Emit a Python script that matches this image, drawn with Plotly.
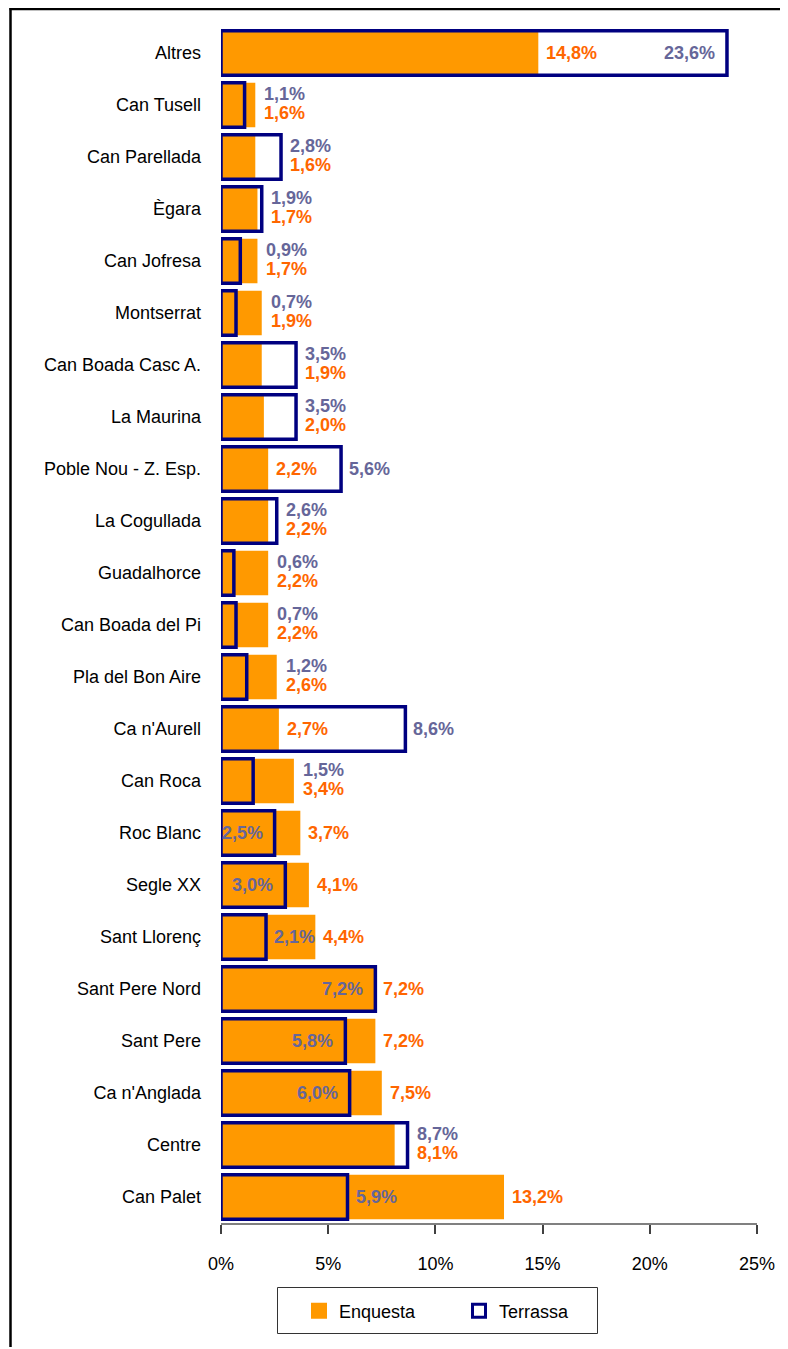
import plotly.graph_objects as go

categories = ["Altres", "Can Tusell", "Can Parellada", "Ègara", "Can Jofresa", "Montserrat",
              "Can Boada Casc A.", "La Maurina", "Poble Nou - Z. Esp.", "La Cogullada",
              "Guadalhorce", "Can Boada del Pi", "Pla del Bon Aire", "Ca n'Aurell", "Can Roca",
              "Roc Blanc", "Segle XX", "Sant Llorenç", "Sant Pere Nord", "Sant Pere",
              "Ca n'Anglada", "Centre", "Can Palet"]
enquesta = [14.8, 1.6, 1.6, 1.7, 1.7, 1.9, 1.9, 2.0, 2.2, 2.2, 2.2, 2.2, 2.6, 2.7, 3.4,
            3.7, 4.1, 4.4, 7.2, 7.2, 7.5, 8.1, 13.2]
terrassa = [23.6, 1.1, 2.8, 1.9, 0.9, 0.7, 3.5, 3.5, 5.6, 2.6, 0.6, 0.7, 1.2, 8.6, 1.5,
            2.5, 3.0, 2.1, 7.2, 5.8, 6.0, 8.7, 5.9]
tick_vals = [0, 5, 10, 15, 20, 25]
tick_text = ["0%", "5%", "10%", "15%", "20%", "25%"]

# label placement style per row: "stack" = two lines right of the longer bar,
# otherwise "terrassa_mode/enquesta_mode" with "in"/"out" relative to own bar end
label_style = ["in/out", "stack", "stack", "stack", "stack", "stack", "stack", "stack",
               "out/out", "stack", "stack", "stack", "stack", "out/out", "stack",
               "in/out", "in/out", "out/out", "in/out", "in/out", "in/out", "stack", "out/out"]

ORANGE = "#FF9900"
NAVY = "#000080"
ENQ_TXT = "#FF6600"
TER_TXT = "#666699"
FONT = "Liberation Sans, Arial, sans-serif"

def fmt(v):
    return f"{v:.1f}".replace(".", ",") + "%"

fig = go.Figure()
fig.add_trace(go.Bar(y=categories, x=enquesta, orientation="h", name="Enquesta",
                     marker=dict(color=ORANGE, line=dict(width=0)), width=0.86,
                     showlegend=False))
fig.add_trace(go.Bar(y=categories, x=terrassa, orientation="h", name="Terrassa",
                     marker=dict(color="rgba(0,0,0,0)", line=dict(color=NAVY, width=3.5)),
                     width=0.86, showlegend=False))
# legend keys (no data marks)
fig.add_trace(go.Scatter(x=[None], y=[None], mode="markers", name="Enquesta",
                         marker=dict(symbol="square", size=16, color=ORANGE,
                                     line=dict(width=0))))
fig.add_trace(go.Scatter(x=[None], y=[None], mode="markers", name="Terrassa",
                         marker=dict(symbol="square", size=13, color="white",
                                     line=dict(color=NAVY, width=3))))

annotations = []
LAB_SIZE = 18
for cat, e, t, st in zip(categories, enquesta, terrassa, label_style):
    if st == "stack":
        m = max(e, t)
        annotations.append(dict(x=m, y=cat, xref="x", yref="y", text="<b>" + fmt(t) + "</b>",
                                showarrow=False, xanchor="left", xshift=7, yshift=11,
                                font=dict(family=FONT, size=LAB_SIZE, color=TER_TXT)))
        annotations.append(dict(x=m, y=cat, xref="x", yref="y", text="<b>" + fmt(e) + "</b>",
                                showarrow=False, xanchor="left", xshift=7, yshift=-8,
                                font=dict(family=FONT, size=LAB_SIZE, color=ENQ_TXT)))
    else:
        tm, em = st.split("/")
        annotations.append(dict(x=t, y=cat, xref="x", yref="y", text="<b>" + fmt(t) + "</b>",
                                showarrow=False,
                                xanchor="right" if tm == "in" else "left",
                                xshift=-10 if tm == "in" else 6,
                                font=dict(family=FONT, size=LAB_SIZE, color=TER_TXT)))
        annotations.append(dict(x=e, y=cat, xref="x", yref="y", text="<b>" + fmt(e) + "</b>",
                                showarrow=False,
                                xanchor="right" if em == "in" else "left",
                                xshift=-10 if em == "in" else 6,
                                font=dict(family=FONT, size=LAB_SIZE, color=ENQ_TXT)))

# page has an 8px body margin; figure geometry is set so the plot lands where the reference has it
OFF = 8
W, H = 780, 1341
L, R, T, B = 221 - OFF, 31, 27 - OFF, 126
pw, ph = W - L - R, H - T - B

def px_x(px):  # page px -> paper
    return (px - OFF - L) / pw

def px_y(py):  # page py -> paper
    return (H - B - (py - OFF)) / ph

shapes = [
    # outer frame: left and top edges
    dict(type="line", xref="paper", yref="paper", x0=px_x(10.5), x1=px_x(10.5),
         y0=px_y(8), y1=px_y(1347), line=dict(color="black", width=2.5)),
    dict(type="line", xref="paper", yref="paper", x0=px_x(9.5), x1=px_x(800),
         y0=px_y(9), y1=px_y(9), line=dict(color="black", width=2.5)),
    # legend box
    dict(type="rect", xref="paper", yref="paper", x0=px_x(277.5), x1=px_x(597.5),
         y0=px_y(1287.5), y1=px_y(1333.5), line=dict(color="#333333", width=1),
         fillcolor="rgba(0,0,0,0)", layer="below"),
]

fig.update_layout(
    width=W, height=H,
    margin=dict(l=L, r=R, t=T, b=B),
    barmode="overlay",
    plot_bgcolor="white", paper_bgcolor="white",
    font=dict(family=FONT, size=18, color="black"),
    annotations=annotations,
    shapes=shapes,
    showlegend=True,
    legend=dict(orientation="h", x=px_x(299), y=px_y(1292.5), xanchor="left", yanchor="top",
                borderwidth=0, bgcolor="rgba(0,0,0,0)", itemsizing="trace",
                font=dict(family=FONT, size=18, color="black"),
                entrywidth=115, entrywidthmode="pixels", traceorder="normal"),
)
fig.update_xaxes(range=[0, 25], tickvals=tick_vals, ticktext=tick_text, showgrid=False,
                 zeroline=False, showline=True, linecolor="#808080", linewidth=1.5,
                 ticks="outside", ticklen=9, tickcolor="#404040", tickwidth=1.5,
                 ticklabelstandoff=15, tickfont=dict(family=FONT, size=18, color="black"),
                 fixedrange=True)
fig.update_yaxes(categoryorder="array", categoryarray=categories,
                 showgrid=False, zeroline=False, showline=False, ticks="",
                 ticklabelstandoff=19, tickfont=dict(family=FONT, size=18, color="black"),
                 range=[22.5, -0.5])

fig.write_html("out.html")
